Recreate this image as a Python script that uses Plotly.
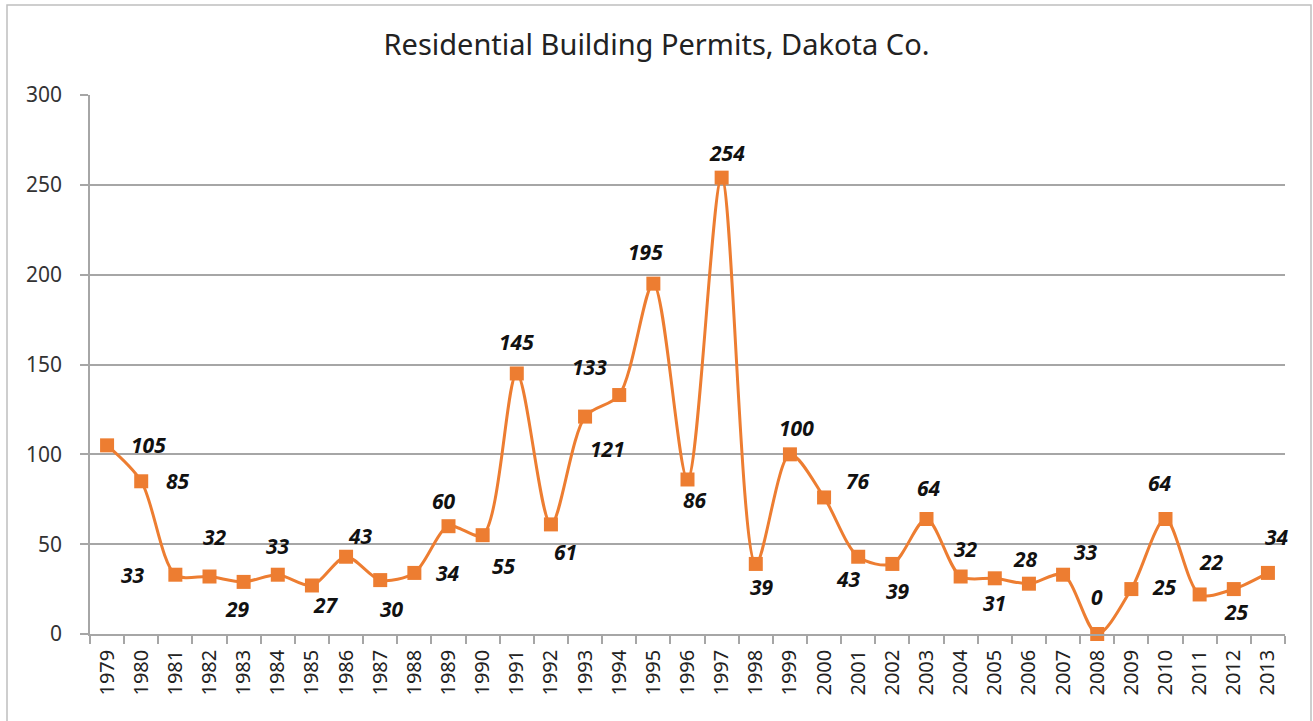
import plotly.graph_objects as go

years = [str(y) for y in range(1979, 2014)]
permits = [105, 85, 33, 32, 29, 33, 27, 43, 30, 34, 60, 55, 145, 61, 121, 133, 195, 86,
           254, 39, 100, 76, 43, 39, 64, 32, 31, 28, 33, 0, 25, 64, 22, 25, 34]

# label offsets in pixels (dx, dy downward) relative to each marker
label_dx = [41, 37, -42, 5, -6, 0, 14, 14, 12, 34, -5, 21, 0, 15, 22, -30, -8, 7,
            5, 6, 7, 34, -10, 6, 2, 5, 0, -3, 23, 0, 33, -6, 12, 3, 9]
label_dy = [0, 0, 0, -40, 27, -29, 20, -21, 29, 0, -25, 31, -31, 28, 32, -28, -32, 21,
            -25, 23, -26, -16, 22, 27, -31, -28, 25, -25, -23, -37, -2, -36, -32, 23, -36]

ORANGE = "#ED7D31"
GRID = "#A6A6A6"

fig = go.Figure()
fig.add_trace(go.Scatter(
    x=years, y=permits, mode="lines+markers",
    line=dict(color=ORANGE, width=3, shape="spline", smoothing=0.85),
    marker=dict(symbol="square", size=14, color=ORANGE),
    cliponaxis=False, hoverinfo="x+y", showlegend=False,
))

for i, (v, dx, dy) in enumerate(zip(permits, label_dx, label_dy)):
    fig.add_annotation(
        x=i, y=v, text=f"<b><i>{v}</i></b>", showarrow=False,
        xshift=dx, yshift=-dy, xanchor="center", yanchor="middle",
        font=dict(family="Noto Sans", size=21, color="#111111"),
    )

fig.add_shape(type="rect", xref="paper", yref="paper",
              x0=(7 - 90) / 1195, x1=(1311 - 90) / 1195,
              y0=(634 - 730) / 539, y1=(634 - 5) / 539,
              line=dict(color="#BFBFBF", width=1.5), fillcolor="rgba(0,0,0,0)",
              layer="below")

fig.update_layout(
    width=1313, height=721,
    margin=dict(l=90, r=28, t=95, b=87, autoexpand=False),
    paper_bgcolor="white", plot_bgcolor="white",
    title=dict(text="Residential Building Permits, Dakota Co.", x=0.5, xanchor="center",
               y=1 - 45 / 721, yanchor="middle",
               font=dict(family="Noto Sans", size=29, color="#222222")),
    font=dict(family="Noto Sans", color="#333333"),
)
fig.update_xaxes(
    type="category", range=[-0.5, len(years) - 0.5], tickangle=-90,
    tickfont=dict(size=20, color="#222222"), automargin=False,
    showgrid=False, showline=True, linecolor=GRID, linewidth=1.5,
    ticks="outside", tickson="boundaries", ticklen=8, tickcolor=GRID, tickwidth=1.5,
    ticklabelstandoff=6,
)
fig.update_yaxes(
    range=[0, 300], dtick=50, tickfont=dict(size=21, color="#333333"), automargin=False,
    showgrid=True, gridcolor=GRID, gridwidth=1.5,
    showline=True, linecolor=GRID, linewidth=1.5,
    ticks="outside", ticklen=8, tickcolor=GRID, tickwidth=1.5,
    ticklabelstandoff=14, zeroline=False,
)

fig.write_html("out.html", config={"displayModeBar": False},
               post_script="document.body.style.margin='0px';")
